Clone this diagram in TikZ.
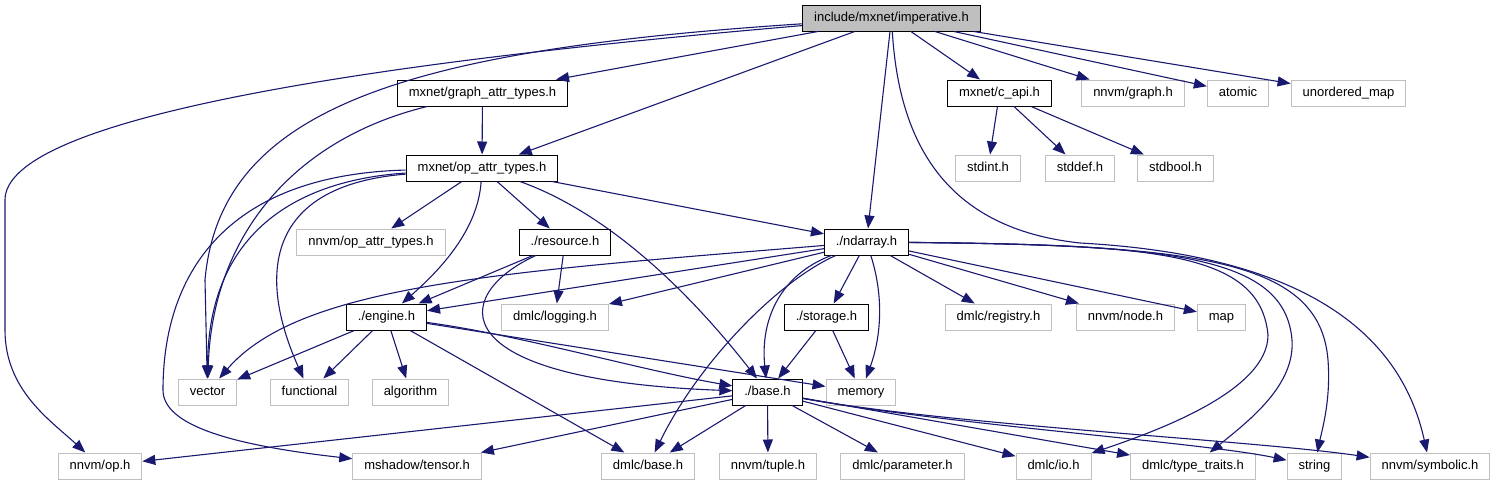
\documentclass[tikz,border=0pt]{standalone}
\usepackage{fontspec}
\setmainfont{Liberation Sans}
\usepackage{tikz}
\usetikzlibrary{arrows.meta}
\definecolor{igedge}{HTML}{191970}
\definecolor{iggrey}{HTML}{BFBFBF}
\tikzset{
  igfile/.style={rectangle, draw=black, fill=white, line width=1pt,
                 minimum height=26pt, inner xsep=11.5pt, inner ysep=0pt,
                 text height=9.4pt, text depth=2.8pt,
                 font=\fontsize{13}{15}\selectfont},
  igroot/.style={igfile, fill=iggrey},
  igsystem/.style={igfile, draw=iggrey},
  iglink/.style={draw=igedge, line width=1.1pt,
                 -{Triangle[length=13pt, width=10pt]}}
}

\begin{document}
\begin{tikzpicture}[x=1pt, y=-1pt]
  \useasboundingbox (0,0) rectangle (1497,485);
  \node[igroot] (imperative) at (891.5,18) {include/mxnet/imperative.h};
  % node name/x/y/file
  \foreach \n/\x/\y/\t in {%
      graphattr/482.5/93/{mxnet/graph\_attr\_types.h},
      capi/999.5/93/{mxnet/c\_api.h},
      opattr/482/168/{mxnet/op\_attr\_types.h},
      resource/565/242/{./resource.h}, ndarray/866.5/242/{./ndarray.h},
      engine/386.5/317/{./engine.h}, storage/826.5/317/{./storage.h},
      base/767.5/392/{./base.h}}
    { \node[igfile] (\n) at (\x,\y) {\t}; }
  \foreach \n/\x/\y/\t in {%
      nnvmgraph/1133/93/{nnvm/graph.h}, atomic/1238/93/atomic,
      unorderedmap/1348.5/93/{unordered\_map},
      stdint/988/168/{stdint.h}, stddef/1080/168/{stddef.h},
      stdbool/1175.5/168/{stdbool.h},
      nnvmopattr/371/242/{nnvm/op\_attr\_types.h},
      logging/555/317/{dmlc/logging.h}, registry/998.5/317/{dmlc/registry.h},
      nnvmnode/1125.5/317/{nnvm/node.h}, map/1221.5/317/map,
      vector/207.5/392/vector, functional/309.5/392/functional,
      algorithm/410.5/392/algorithm, memory/861/392/memory,
      nnvmop/100/466/{nnvm/op.h}, mshadow/417/466/{mshadow/tensor.h},
      dmlcbase/648/466/{dmlc/base.h}, nnvmtuple/768/466/{nnvm/tuple.h},
      parameter/902.5/466/{dmlc/parameter.h}, dmlcio/1053.5/466/{dmlc/io.h},
      typetraits/1193/466/{dmlc/type\_traits.h}, string/1314.5/466/string,
      symbolic/1430/466/{nnvm/symbolic.h}}
    { \node[igsystem] (\n) at (\x,\y) {\t}; }
  % includer/included, straight
  \foreach \p/\c in {%
      imperative/graphattr, imperative/opattr, imperative/ndarray,
      imperative/capi, imperative/nnvmgraph, imperative/atomic,
      imperative/unorderedmap, graphattr/opattr,
      opattr/nnvmopattr, opattr/resource, opattr/ndarray,
      capi/stdint, capi/stddef, capi/stdbool,
      resource/engine, resource/logging,
      ndarray/engine, ndarray/logging, ndarray/storage, ndarray/registry,
      ndarray/nnvmnode, ndarray/map,
      engine/vector, engine/functional, engine/algorithm, engine/memory,
      engine/dmlcbase, storage/base, storage/memory,
      base/nnvmop, base/mshadow, base/dmlcbase, base/nnvmtuple,
      base/parameter, base/dmlcio, base/typetraits}
    { \draw[iglink] (\p) -- (\c); }
  % the curved ones
  \draw[iglink] (imperative) .. controls (350,64) and (5,120) .. (5,200)
    -- (5,330) .. controls (5,390) and (50,420) .. (nnvmop);
  \draw[iglink] (imperative) .. controls (400,50) and (220,110) .. (205,280)
    -- (vector);
  \draw[iglink] (imperative) .. controls (900,160) and (960,230) .. (1080,243)
    .. controls (1300,255) and (1400,330) .. (symbolic);
  \draw[iglink] (graphattr) .. controls (290,140) and (212,240) .. (vector);
  \draw[iglink] (opattr) .. controls (300,180) and (208,230) .. (vector);
  \draw[iglink] (opattr) .. controls (270,185) and (255,270) .. (functional);
  \draw[iglink] (opattr) .. controls (220,175) and (163,280) .. (163,390)
    .. controls (163,425) and (230,445) .. (mshadow);
  \draw[iglink] (opattr) .. controls (478,230) and (440,270) .. (engine);
  \draw[iglink] (opattr) .. controls (600,210) and (680,280) .. (base);
  \draw[iglink] (resource) .. controls (450,295) and (440,380) .. (base);
  \draw[iglink] (ndarray) .. controls (500,272) and (300,285) .. (vector);
  \draw[iglink] (ndarray) .. controls (780,280) and (700,360) .. (dmlcbase);
  \draw[iglink] (ndarray) .. controls (780,275) and (760,320) .. (base);
  \draw[iglink] (ndarray) .. controls (885,300) and (880,340) .. (memory);
  \draw[iglink] (ndarray) .. controls (1150,245) and (1260,250) .. (1268,335)
    .. controls (1268,390) and (1160,430) .. (dmlcio);
  \draw[iglink] (ndarray) .. controls (1170,245) and (1285,255) .. (1292,340)
    .. controls (1295,385) and (1250,420) .. (typetraits);
  \draw[iglink] (ndarray) .. controls (1200,245) and (1320,260) .. (1328,360)
    .. controls (1331,400) and (1322,430) .. (string);
  \draw[iglink] (engine) .. controls (520,335) and (640,370) .. (base);
  \draw[iglink] (base) .. controls (950,425) and (1200,442) .. (string);
  \draw[iglink] (base) .. controls (950,425) and (1250,440) .. (symbolic);
\end{tikzpicture}
\end{document}
